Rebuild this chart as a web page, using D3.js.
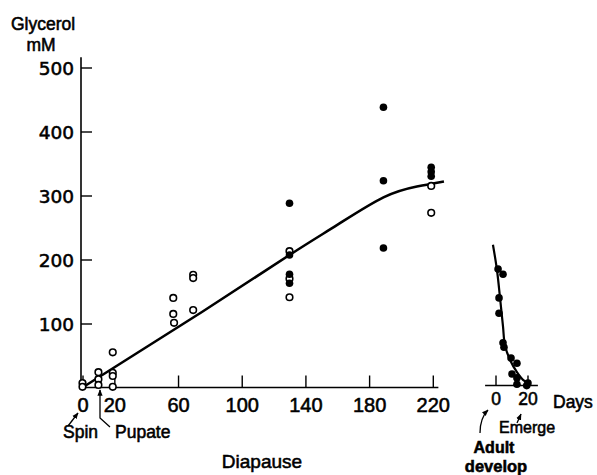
<!DOCTYPE html>
<html><head><meta charset="utf-8">
<script src="https://cdn.jsdelivr.net/npm/d3@7"></script>
<style>
body{margin:0;background:#fff;}
svg{display:block;}
text{font-family:"Liberation Sans",Arial,sans-serif;fill:#000;stroke:#000;stroke-width:0.55px;}
</style></head>
<body><svg id="c" width="597" height="475"></svg>
<script>
// Diapause days vs glycerol (mM)
const diapauseOpen = [[0,7],[0,1],[10,24],[10,13],[10,4],[19,55],[19,23],[19,18],[19,1],
  [57,140],[57,115],[57.5,101],[69.5,176],[69.5,171],[69.5,121],[130,213],[130,170],[130,141],
  [219,315],[219,273]];
const diapauseFilled = [[130,288],[130,207],[130,177],[130,163],[189,438],[189,323],[189,218],
  [219,344],[219,337],[219,330]];
const diapauseCurve = [[0,0],[75,118],[130,207],[160,254],[189,297],[210,314],[227,322]];
// Adult development days vs glycerol
const adultFilled = [[1.6,185],[4.7,177],[2.2,140],[2.2,116],[4.7,70],[5.3,63],[9.7,46],[13.4,38],
  [10.3,21],[13.4,15],[13.4,5],[20.3,7],[19.5,3]];
const adultCurve = [[-1.6,223],[0.9,184],[2.8,141],[4.7,95],[5.9,66],[9.1,43],[13.4,24],[17.2,12],[20.3,7]];
const xTicks = [0,20,60,100,140,180,220];
const yTicks = [100,200,300,400,500];
const adultTicks = [0,20];

const svg = d3.select("#c");
const x = d3.scaleLinear().domain([0,220]).range([82.5,432.8]);
const y = d3.scaleLinear().domain([0,500]).range([387.5,67.5]);
const x2 = d3.scaleLinear().domain([0,20]).range([495.5,527.5]);

// y axis
const ya = svg.append("g").attr("transform","translate(81,0)")
  .call(d3.axisLeft(y).tickValues(yTicks).tickSizeInner(-11).tickSizeOuter(0).tickPadding(7));
ya.select(".domain").remove();
ya.selectAll("line").attr("stroke","#000").attr("stroke-width",1.4);
ya.selectAll("text").style("font-family","'DejaVu Sans',sans-serif").style("font-size","18.5px").attr("dy","0.36em");
svg.append("line").attr("x1",81).attr("x2",81).attr("y1",y(0)).attr("y2",y(516))
  .attr("stroke","#000").attr("stroke-width",1.6);

// x axis main
const xa = svg.append("g").attr("transform",`translate(0,${y(0)})`)
  .call(d3.axisBottom(x).tickValues(xTicks).tickSizeInner(-12).tickSizeOuter(0).tickPadding(10));
xa.select(".domain").remove();
xa.selectAll("line").attr("stroke","#000").attr("stroke-width",1.4);
xa.selectAll("text").style("font-size","20px");
svg.append("line").attr("x1",81).attr("x2",x(223.5)).attr("y1",y(0)).attr("y2",y(0))
  .attr("stroke","#000").attr("stroke-width",1.6);

// x axis adult
const xb = svg.append("g").attr("transform",`translate(0,${y(0)-2})`)
  .call(d3.axisBottom(x2).tickValues(adultTicks).tickSizeInner(-10).tickSizeOuter(0).tickPadding(7));
xb.select(".domain").remove();
xb.selectAll("line").attr("stroke","#000").attr("stroke-width",1.4);
xb.selectAll("text").style("font-size","17.5px");
svg.append("line").attr("x1",x2(-6.5)).attr("x2",x2(26.5)).attr("y1",y(0)-2).attr("y2",y(0)-2)
  .attr("stroke","#000").attr("stroke-width",1.6);

// curves
const line = d3.line().x(d=>x(d[0])).y(d=>y(d[1])).curve(d3.curveNatural);
svg.append("path").attr("d",line(diapauseCurve)).attr("fill","none").attr("stroke","#000").attr("stroke-width",2.6);
const line2 = d3.line().x(d=>x2(d[0])).y(d=>y(d[1])).curve(d3.curveCatmullRom);
svg.append("path").attr("d",line2(adultCurve)).attr("fill","none").attr("stroke","#000").attr("stroke-width",2.2);

// points
svg.append("g").selectAll("circle").data(diapauseOpen).join("circle")
  .attr("cx",d=>x(d[0])).attr("cy",d=>y(d[1])).attr("r",3.3)
  .attr("fill","#fff").attr("stroke","#000").attr("stroke-width",1.6);
svg.append("g").selectAll("circle").data(diapauseFilled).join("circle")
  .attr("cx",d=>x(d[0])).attr("cy",d=>y(d[1])).attr("r",3.8).attr("fill","#000");
svg.append("g").selectAll("circle").data(adultFilled).join("circle")
  .attr("cx",d=>x2(d[0])).attr("cy",d=>y(d[1])).attr("r",3.8).attr("fill","#000");

// titles and annotations
const t = (xx,yy,s,size,anchor,weight)=>svg.append("text").attr("x",xx).attr("y",yy).text(s)
  .style("font-size",size+"px").attr("text-anchor",anchor||"start").style("font-weight",weight||"normal");
t(43,30,"Glycerol",17.5,"middle");
t(41,51,"mM",17.5,"middle");
t(63,438,"Spin",17.5);
t(115,438,"Pupate",17.5);
t(262,468,"Diapause",19,"middle");
t(553,408,"Days",17.5);
t(499,433,"Emerge",16);
t(494,453,"Adult",16,"middle","bold");
t(496,472,"develop",16.5,"middle","bold");

// arrows
const defs = svg.append("defs");
defs.append("marker").attr("id","ah").attr("viewBox","0 0 10 10").attr("refX",9).attr("refY",5)
  .attr("markerWidth",5).attr("markerHeight",5).attr("orient","auto-start-reverse")
  .append("path").attr("d","M0,1 L10,5 L0,9 Z").attr("fill","#000");
const arrow = d=>svg.append("path").attr("d",d).attr("fill","none").attr("stroke","#000")
  .attr("stroke-width",1.3).attr("marker-end","url(#ah)");
arrow("M68,426 L78,413");
arrow("M110,427 L100,418 L100,390");
arrow("M480,433 Q480,418 488,410");
arrow("M517,423 L521,414");
</script></body></html>
